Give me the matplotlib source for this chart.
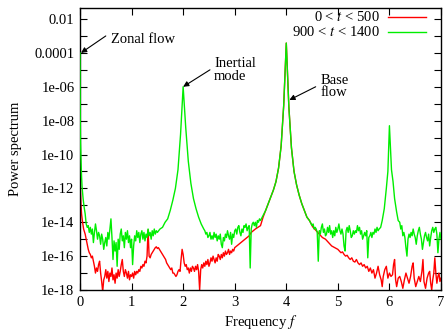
import numpy as np
import matplotlib
matplotlib.use("Agg")
import matplotlib.pyplot as plt
from matplotlib.lines import Line2D
from matplotlib.ticker import FixedLocator, FixedFormatter, NullFormatter

plt.rcParams['font.family'] = ['Liberation Serif', 'DejaVu Serif']
plt.rcParams['mathtext.fontset'] = 'stix'

# ---------------- data (log10 of power spectrum) ----------------
green_f = [0.00, 0.005, 0.01, 0.02, 0.03, 0.04, 0.06, 0.08, 0.10, 0.12, 0.14, 0.16, 0.18, 0.20,
           0.22, 0.24, 0.26, 0.28, 0.30, 0.32, 0.34, 0.36, 0.38, 0.40, 0.42, 0.44, 0.46, 0.48,
           0.50, 0.52, 0.54, 0.56, 0.58, 0.60, 0.62, 0.64, 0.66, 0.68, 0.70, 0.72, 0.74, 0.76,
           0.78, 0.80, 0.82, 0.84, 0.86, 0.88, 0.90, 0.92, 0.94, 0.96, 0.98, 1.00, 1.02, 1.04,
           1.06, 1.08, 1.10, 1.12, 1.14, 1.16, 1.18, 1.20, 1.22, 1.24, 1.26, 1.28, 1.30, 1.32,
           1.34, 1.36, 1.38, 1.40, 1.42, 1.44, 1.46, 1.48, 1.50, 1.55, 1.60, 1.65, 1.70, 1.75,
           1.80, 1.85, 1.90, 1.95, 2.00, 2.05, 2.10, 2.15, 2.20, 2.25, 2.30, 2.35, 2.40, 2.42,
           2.44, 2.46, 2.48, 2.50, 2.52, 2.54, 2.56, 2.58, 2.60, 2.62, 2.64, 2.66, 2.68, 2.70,
           2.72, 2.74, 2.76, 2.78, 2.80, 2.82, 2.84, 2.86, 2.88, 2.90, 2.92, 2.94, 2.96, 2.98,
           3.00, 3.02, 3.04, 3.06, 3.08, 3.10, 3.12, 3.14, 3.16, 3.18, 3.20, 3.22, 3.24, 3.26,
           3.28, 3.30, 3.32, 3.34, 3.36, 3.38, 3.40, 3.42, 3.44, 3.46, 3.48, 3.50, 3.55, 3.60,
           3.65, 3.70, 3.75, 3.80, 3.85, 3.90, 3.95, 4.00, 4.05, 4.10, 4.15, 4.20, 4.25, 4.30,
           4.35, 4.40, 4.45, 4.50, 4.52, 4.54, 4.56, 4.58, 4.60, 4.62, 4.64, 4.66, 4.68, 4.70,
           4.72, 4.74, 4.76, 4.78, 4.80, 4.82, 4.84, 4.86, 4.88, 4.90, 4.92, 4.94, 4.96, 4.98,
           5.00, 5.02, 5.04, 5.06, 5.08, 5.10, 5.12, 5.14, 5.16, 5.18, 5.20, 5.22, 5.24, 5.26,
           5.28, 5.30, 5.32, 5.34, 5.36, 5.38, 5.40, 5.42, 5.44, 5.46, 5.48, 5.50, 5.52, 5.54,
           5.56, 5.58, 5.60, 5.62, 5.64, 5.66, 5.68, 5.70, 5.72, 5.74, 5.76, 5.78, 5.80, 5.83,
           5.86, 5.90, 5.94, 5.97, 6.00, 6.04, 6.07, 6.10, 6.14, 6.17, 6.20, 6.22, 6.24, 6.26,
           6.28, 6.30, 6.32, 6.34, 6.36, 6.38, 6.40, 6.42, 6.44, 6.46, 6.48, 6.50, 6.52, 6.54,
           6.56, 6.58, 6.60, 6.62, 6.64, 6.66, 6.68, 6.70, 6.72, 6.74, 6.76, 6.78, 6.80, 6.82,
           6.84, 6.86, 6.88, 6.90, 6.92, 6.94, 6.96, 6.98, 7.00]
green_log = [-4.0, -8.0, -9.3, -10.4, -11.3, -11.9, -12.6, -13.1, -13.5, -14.1, -14.3, -14.2, -14.6, -14.3,
             -14.7, -14.4, -15.2, -14.6, -14.1, -14.5, -15.0, -14.6, -14.8, -15.3, -14.7, -15.0, -15.6, -15.2,
             -14.9, -15.4, -14.6, -15.0, -14.4, -13.8, -14.9, -16.2, -15.1, -15.7, -15.2, -16.6, -15.0, -15.6,
             -14.7, -14.4, -15.1, -14.8, -15.5, -14.6, -15.0, -14.5, -15.2, -14.8, -15.5, -15.0, -16.5, -15.4,
             -14.8, -15.1, -14.5, -14.9, -14.6, -15.2, -14.7, -14.5, -15.0, -14.6, -15.1, -14.7, -14.9, -14.4,
             -14.8, -14.6, -15.0, -14.5, -14.8, -14.4, -14.7, -14.5, -14.6, -14.4, -14.3, -14.0, -13.8, -13.3,
             -12.7, -12.0, -10.9, -8.8, -6.0, -8.4, -10.4, -11.7, -12.6, -13.2, -13.7, -14.1, -14.4, -14.5,
             -14.7, -14.6, -14.9, -14.8, -14.6, -15.0, -14.8, -15.0, -14.6, -14.9, -14.7, -15.1, -14.8, -15.0,
             -14.7, -15.3, -15.5, -14.9, -15.1, -14.7, -14.9, -14.5, -14.8, -15.0, -14.6, -15.3, -14.7, -14.9,
             -14.5, -14.4, -14.7, -14.3, -14.2, -14.6, -14.8, -14.4, -14.6, -14.2, -14.3, -14.1, -14.5, -14.3,
             -14.2, -16.7, -14.4, -14.1, -14.0, -14.2, -14.0, -14.3, -13.9, -14.0, -13.8, -13.9, -13.6, -13.3,
             -12.9, -12.5, -12.1, -11.6, -10.8, -9.5, -7.1, -3.42, -7.2, -9.6, -11.0, -11.8, -12.4, -12.9,
             -13.3, -13.7, -13.9, -14.2, -14.1, -14.4, -14.3, -14.4, -14.6, -16.3, -14.5, -14.7, -14.3, -14.1,
             -14.6, -14.4, -14.8, -14.7, -14.3, -14.6, -14.2, -14.7, -14.5, -14.9, -14.5, -14.8, -14.3, -14.6,
             -14.4, -14.1, -14.5, -14.7, -14.4, -14.7, -15.4, -15.7, -14.5, -14.3, -14.6, -14.2, -14.5, -14.9,
             -14.8, -14.5, -14.7, -14.5, -14.6, -14.2, -14.5, -14.3, -14.7, -14.5, -15.0, -14.8, -14.6, -14.8,
             -14.5, -16.1, -14.9, -14.8, -14.6, -14.9, -14.6, -14.7, -14.4, -14.6, -14.3, -14.5, -14.4, -14.3,
             -13.9, -13.2, -12.0, -11.0, -8.3, -10.9, -11.6, -12.6, -13.4, -13.9, -14.0, -14.4, -14.2, -14.8,
             -14.6, -14.9, -15.5, -16.0, -15.0, -14.7, -14.9, -14.6, -14.8, -14.4, -14.7, -14.9, -15.3, -14.8,
             -14.5, -14.3, -14.7, -15.0, -15.6, -15.2, -14.8, -14.6, -14.9, -15.1, -14.7, -15.4, -14.9, -14.5,
             -14.3, -14.6, -14.4, -14.3, -14.7, -15.8, -15.0, -14.6, -15.0]

red_f = [0.00, 0.005, 0.01, 0.02, 0.03, 0.05, 0.07, 0.10, 0.12, 0.14, 0.16, 0.18, 0.20, 0.22,
         0.24, 0.26, 0.28, 0.30, 0.32, 0.34, 0.36, 0.38, 0.40, 0.42, 0.44, 0.46, 0.48, 0.50,
         0.52, 0.54, 0.56, 0.58, 0.60, 0.62, 0.64, 0.66, 0.68, 0.70, 0.72, 0.74, 0.76, 0.78,
         0.80, 0.82, 0.84, 0.86, 0.88, 0.90, 0.92, 0.94, 0.96, 0.98, 1.00, 1.02, 1.04, 1.06,
         1.08, 1.10, 1.12, 1.14, 1.16, 1.18, 1.20, 1.22, 1.24, 1.26, 1.28, 1.30, 1.32, 1.34,
         1.36, 1.38, 1.40, 1.42, 1.44, 1.46, 1.48, 1.50, 1.52, 1.54, 1.56, 1.58, 1.60, 1.62,
         1.64, 1.66, 1.68, 1.70, 1.72, 1.74, 1.76, 1.78, 1.80, 1.82, 1.84, 1.86, 1.88, 1.90,
         1.92, 1.94, 1.96, 1.98, 2.00, 2.02, 2.04, 2.06, 2.08, 2.10, 2.12, 2.14, 2.16, 2.18,
         2.20, 2.22, 2.24, 2.26, 2.28, 2.30, 2.32, 2.34, 2.36, 2.38, 2.40, 2.42, 2.44, 2.46,
         2.48, 2.50, 2.52, 2.54, 2.56, 2.58, 2.60, 2.62, 2.64, 2.66, 2.68, 2.70, 2.72, 2.74,
         2.76, 2.78, 2.80, 2.82, 2.84, 2.86, 2.88, 2.90, 2.92, 2.94, 2.96, 2.98, 3.00, 3.04,
         3.08, 3.12, 3.16, 3.20, 3.24, 3.28, 3.32, 3.36, 3.40, 3.45, 3.50, 3.55, 3.60, 3.65,
         3.70, 3.75, 3.80, 3.85, 3.90, 3.95, 4.00, 4.05, 4.10, 4.15, 4.20, 4.25, 4.30, 4.35,
         4.40, 4.45, 4.50, 4.52, 4.55, 4.58, 4.61, 4.64, 4.67, 4.70, 4.73, 4.76, 4.79, 4.82,
         4.85, 4.88, 4.91, 4.94, 4.97, 5.00, 5.03, 5.06, 5.09, 5.12, 5.15, 5.18, 5.21, 5.24,
         5.27, 5.30, 5.33, 5.36, 5.39, 5.42, 5.45, 5.48, 5.51, 5.54, 5.57, 5.60, 5.63, 5.66,
         5.69, 5.72, 5.75, 5.78, 5.81, 5.84, 5.86, 5.88, 5.91, 5.94, 5.97, 6.00, 6.03, 6.06,
         6.08, 6.10, 6.12, 6.14, 6.17, 6.20, 6.23, 6.26, 6.29, 6.32, 6.35, 6.38, 6.41, 6.44,
         6.46, 6.48, 6.51, 6.54, 6.57, 6.60, 6.63, 6.65, 6.67, 6.70, 6.73, 6.76, 6.78, 6.80,
         6.82, 6.84, 6.86, 6.88, 6.90, 6.92, 6.94, 6.96, 6.98, 7.00]
red_log = [-8.0, -11.0, -12.2, -13.0, -13.5, -14.0, -14.4, -14.7, -15.0, -15.3, -15.6, -15.8, -15.9, -16.1,
           -16.0, -16.3, -16.6, -17.0, -16.7, -16.9, -16.5, -16.3, -17.0, -17.5, -18.1, -17.4, -17.2, -16.8,
           -17.3, -16.9, -17.5, -17.0, -17.2, -16.7, -17.4, -17.1, -17.6, -17.0, -17.3, -16.8, -17.2, -16.9,
           -16.5, -16.2, -16.9, -17.2, -16.8, -17.0, -17.3, -16.9, -17.4, -17.1, -17.2, -17.0, -17.3, -16.9,
           -17.1, -16.9, -17.0, -16.8, -16.9, -16.6, -16.7, -16.5, -16.6, -16.3, -16.4, -16.0, -14.45, -16.0,
           -16.1, -15.9, -15.8, -15.7, -15.6, -15.5, -15.45, -15.55, -15.5, -15.6, -15.7, -15.8, -15.9, -16.0,
           -16.1, -16.2, -16.4, -16.5, -16.6, -16.7, -16.8, -16.7, -17.0, -17.0, -17.1, -17.2, -17.1, -16.9,
           -16.8, -16.9, -16.2, -15.6, -15.9, -16.4, -16.6, -16.5, -16.8, -16.7, -17.0, -16.7, -16.9, -16.6,
           -16.7, -16.9, -16.6, -16.8, -16.5, -16.9, -18.0, -16.8, -16.5, -16.7, -16.4, -16.6, -16.3, -16.5,
           -16.2, -16.6, -16.4, -16.1, -16.3, -16.0, -16.2, -16.4, -16.1, -16.3, -15.9, -16.0, -16.2, -15.9,
           -16.1, -15.8, -16.0, -15.7, -15.9, -15.8, -15.6, -15.9, -15.7, -15.8, -15.6, -15.7, -15.5, -15.4,
           -15.3, -15.2, -15.1, -15.0, -14.9, -14.8, -14.6, -14.5, -14.4, -14.3, -14.2, -13.7, -13.3, -12.9,
           -12.5, -12.1, -11.6, -10.8, -9.5, -7.1, -3.42, -7.2, -9.6, -11.0, -11.8, -12.4, -12.9, -13.3,
           -13.7, -13.9, -14.2, -14.3, -14.4, -14.5, -14.6, -14.7, -14.8, -14.9, -14.95, -15.0, -15.1, -15.2,
           -15.3, -15.4, -15.45, -15.5, -15.55, -15.6, -15.7, -15.8, -15.75, -15.9, -16.0, -15.95, -16.1, -16.2,
           -16.1, -16.3, -16.35, -16.2, -16.4, -16.5, -16.4, -16.6, -16.5, -16.7, -16.6, -16.9, -16.7, -17.0,
           -16.8, -17.3, -17.0, -16.6, -17.1, -17.4, -17.8, -17.2, -16.8, -16.6, -17.3, -17.0, -17.2, -17.1,
           -16.5, -16.2, -17.4, -17.8, -17.3, -17.2, -17.5, -17.9, -17.4, -17.0, -17.3, -17.6, -17.2, -16.6,
           -16.4, -17.3, -17.8, -17.5, -17.2, -17.5, -16.9, -16.2, -17.5, -17.9, -17.3, -17.0, -16.9, -17.6,
           -18.0, -17.4, -17.0, -16.1, -17.0, -17.6, -17.2, -17.0, -17.5, -17.3]

series_labels = [r"0 < $t$ < 500", r"900 < $t$ < 1400"]
series_colors = ["#ff0000", "#00ee00"]

ytick_vals = [1e-2, 1e-4, 1e-6, 1e-8, 1e-10, 1e-12, 1e-14, 1e-16, 1e-18]
ytick_labels = ["0.01", "0.0001", "1e-06", "1e-08", "1e-10", "1e-12", "1e-14", "1e-16", "1e-18"]
xtick_vals = [0, 1, 2, 3, 4, 5, 6, 7]

# annotations: (text, text_xy, arrow_tail, arrow_head) in data coords (log10 for y)
annotations = [
    ("Zonal flow", (0.60, -3.18), (0.50, -3.0), (0.02, -4.0)),
    ("Inertial\nmode", (2.60, -5.0), (2.52, -5.0), (2.0, -6.0)),
    ("Base\nflow", (4.67, -5.98), (4.57, -6.0), (4.06, -6.78)),
]

# ---------------- plot ----------------
W, H = 446, 331
fig = plt.figure(figsize=(W / 100, H / 100), dpi=100)
ax = fig.add_axes([80 / W, 1 - 290 / H, 361 / W, 282.5 / H])

red_p = np.power(10.0, np.array(red_log))
green_p = np.power(10.0, np.array(green_log))
ax.plot(red_f, red_p, color=series_colors[0], lw=1.0, zorder=2)
ax.plot(green_f, green_p, color=series_colors[1], lw=1.0, zorder=3)

ax.set_yscale('log')
ax.set_xlim(0, 7)
ax.set_ylim(1e-18, 10 ** -1.32)

ax.yaxis.set_major_locator(FixedLocator(ytick_vals))
ax.yaxis.set_major_formatter(FixedFormatter(ytick_labels))
ax.yaxis.set_minor_locator(FixedLocator([10.0 ** (-k) for k in range(3, 18, 2)]))
ax.yaxis.set_minor_formatter(NullFormatter())
ax.set_xticks(xtick_vals)
ax.set_xticklabels([str(v) for v in xtick_vals])

ax.tick_params(which='both', direction='in', top=True, right=True, labelsize=10.5, width=0.8)
ax.tick_params(which='major', length=5, pad=4)
ax.tick_params(which='minor', length=5)
for s in ax.spines.values():
    s.set_linewidth(1.0)

ax.set_xlabel(r"Frequency $f$", fontsize=10.5, labelpad=3)
ax.set_ylabel("Power spectrum", fontsize=10.5, labelpad=9)

for text, (tx, ty), (ax0, ay0), (hx, hy) in annotations:
    ax.annotate("", xy=(hx, 10 ** hy), xytext=(ax0, 10 ** ay0),
                arrowprops=dict(arrowstyle="-|>", color="black", lw=0.8,
                                mutation_scale=8, shrinkA=0, shrinkB=0))
    ax.text(tx, 10 ** ty, text, fontsize=10.5, ha='left', va='center', linespacing=0.95)

# legend (right-aligned text, line sample after the text)
rows_y = [0.966, 0.913]
for lab, col, yy in zip(series_labels, series_colors, rows_y):
    ax.text(0.831, yy, lab, transform=ax.transAxes, ha='right', va='center', fontsize=10.5)
    ax.add_line(Line2D([0.853, 0.958], [yy, yy], transform=ax.transAxes, color=col, lw=1.0))

fig.savefig("out.png", dpi=100)
